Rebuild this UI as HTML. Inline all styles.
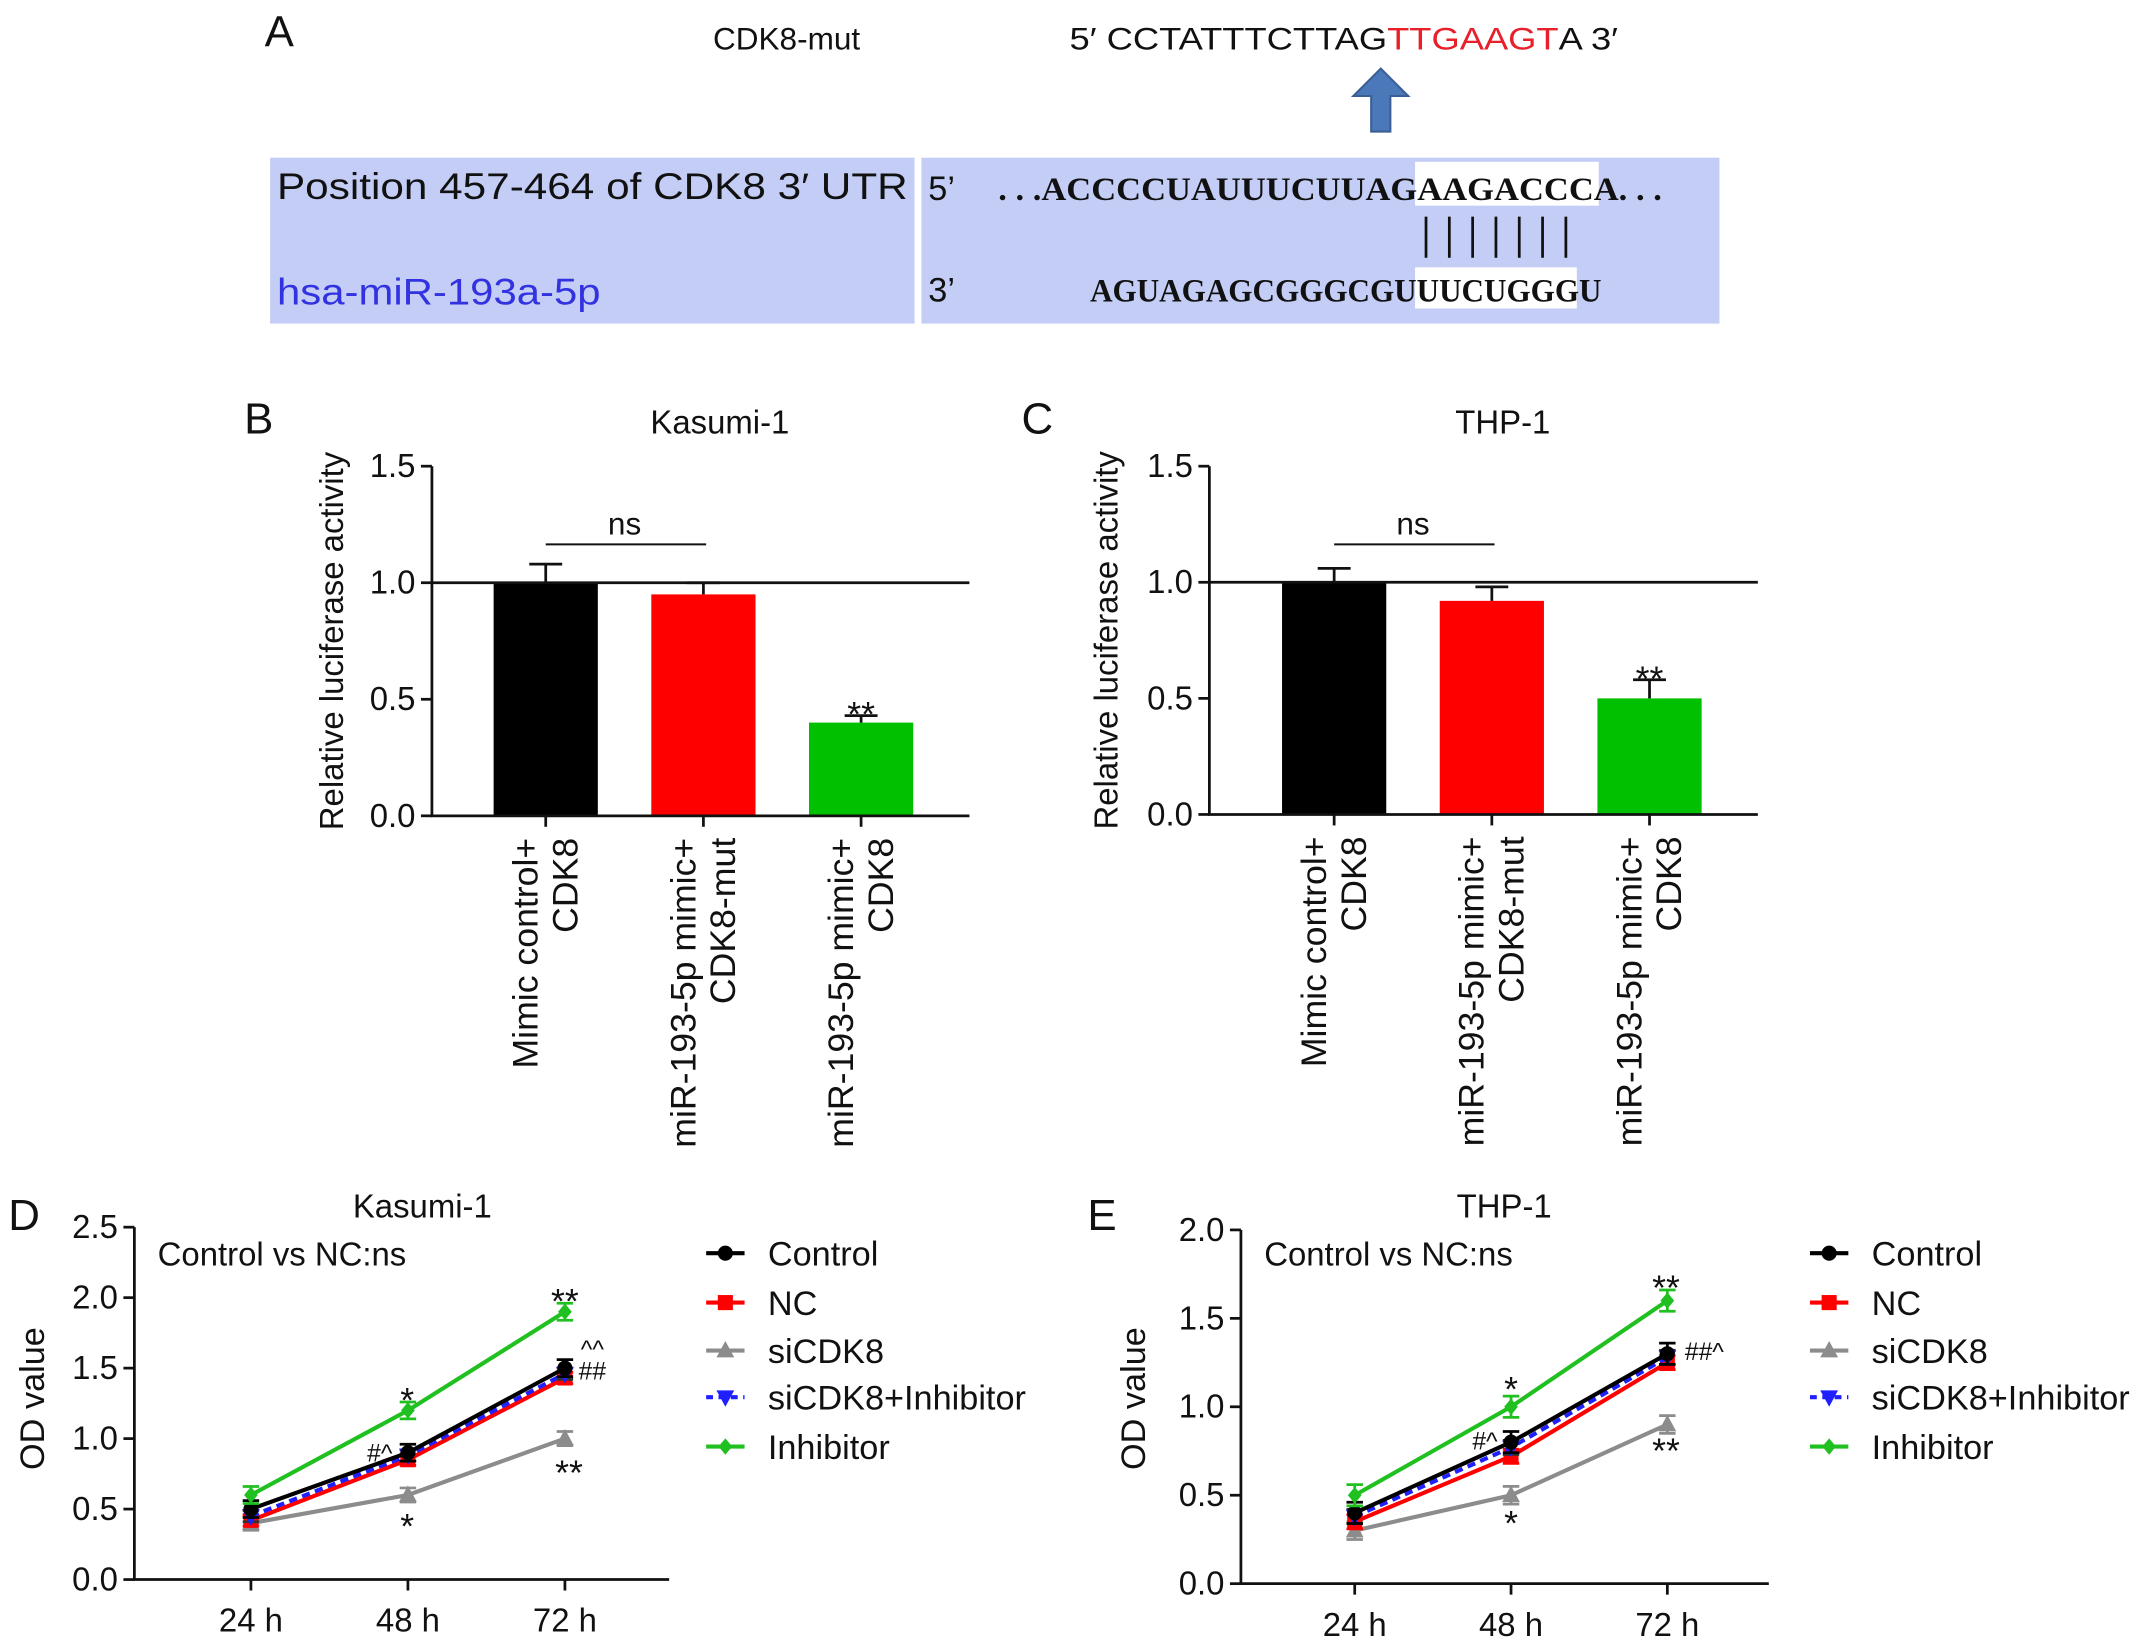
<!DOCTYPE html>
<html><head><meta charset="utf-8">
<style>
html,body{margin:0;padding:0;background:#fff;}
svg{display:block;}
text{font-family:"Liberation Sans",Arial,sans-serif;fill:#111;}
.ser{font-family:"Liberation Serif",serif;font-weight:bold;}
</style></head>
<body>
<svg id="fig" width="2150" height="1644" viewBox="0 0 1568 1199" preserveAspectRatio="none" xmlns="http://www.w3.org/2000/svg">
<g>
  <text x="193" y="34" font-size="32">A</text>
  <text x="520" y="36" font-size="23">CDK8-mut</text>
  <text x="780" y="36" font-size="23" textLength="400" lengthAdjust="spacingAndGlyphs">5′ CCTATTTCTTAG<tspan fill="#e8202a" style="fill:#e8202a">TTGAAGT</tspan>A 3′</text>
  <path d="M1000,96 L1000,70 L987,70 L1007,50 L1027,70 L1014,70 L1014,96 Z" fill="#4a78b8" stroke="#3a5f95" stroke-width="1.5"/>
  <rect x="197" y="115" width="470" height="121" fill="#c3cdf6"/>
  <rect x="672" y="115" width="582" height="121" fill="#c3cdf6"/>
  <rect x="1032" y="118" width="134" height="32" fill="#fff"/>
  <rect x="1032" y="195" width="118" height="30" fill="#fff"/>
  <text x="202" y="145" font-size="27" textLength="460" lengthAdjust="spacingAndGlyphs">Position 457-464 of CDK8 3′ UTR</text>
  <text x="202" y="222" font-size="27" style="fill:#3232e0" textLength="236" lengthAdjust="spacingAndGlyphs">hsa-miR-193a-5p</text>
  <text x="677" y="146" font-size="25">5’</text>
  <text class="ser" x="728" y="146" font-size="24" textLength="484" lengthAdjust="spacingAndGlyphs">. . .ACCCCUAUUUCUUAGAAGACCCA. . .</text>
  <g stroke="#111" stroke-width="2" id="pairs"></g>
  <text x="677" y="220" font-size="25">3’</text>
  <text class="ser" x="795" y="220" font-size="24" textLength="373" lengthAdjust="spacingAndGlyphs">AGUAGAGCGGGCGUUUCUGGGU</text>
</g>
<g id="charts"></g>
</svg>
<script>
// ---- Panel B/C data ----
const barCategories = [["Mimic control+","CDK8"],["miR-193-5p mimic+","CDK8-mut"],["miR-193-5p mimic+","CDK8"]];
const kasumiBarValues = [1.0, 0.95, 0.40];
const kasumiBarErrors = [0.08, 0.05, 0.03];
const thpBarValues = [1.0, 0.92, 0.50];
const thpBarErrors = [0.06, 0.06, 0.08];
const barTicks = [0.0, 0.5, 1.0, 1.5];
// ---- Panel D/E data ----
const timeLabels = ["24 h","48 h","72 h"];
const seriesNames = ["Control","NC","siCDK8","siCDK8+Inhibitor","Inhibitor"];
const kasumiControl = [0.50, 0.90, 1.50];
const kasumiNC = [0.42, 0.85, 1.43];
const kasumiSi = [0.40, 0.60, 1.00];
const kasumiSiInh = [0.45, 0.88, 1.46];
const kasumiInh = [0.60, 1.20, 1.90];
const thpControl = [0.40, 0.80, 1.30];
const thpNC = [0.35, 0.72, 1.25];
const thpSi = [0.30, 0.50, 0.90];
const thpSiInh = [0.38, 0.77, 1.28];
const thpInh = [0.50, 1.00, 1.60];
const kasumiTicks = [0.0, 0.5, 1.0, 1.5, 2.0, 2.5];
const thpTicks = [0.0, 0.5, 1.0, 1.5, 2.0];

const NS = "http://www.w3.org/2000/svg";
const root = document.getElementById('charts');
function mk(tag, attrs, parent, txt){
  const e = document.createElementNS(NS, tag);
  for (const k in attrs) e.setAttribute(k, attrs[k]);
  if (txt !== undefined) e.textContent = txt;
  (parent||root).appendChild(e); return e;
}
const pairs = document.getElementById('pairs');
for (let i=0;i<7;i++){ const l=mk('line',{x1:1040+i*17,x2:1040+i*17,y1:158,y2:188},pairs);

 }

function barPanel(o){
  const g = mk('g',{});
  
  
  const y = v => o.y0 - (v - 0) / 1.5 * (o.y0 - o.y1);
  const x = i => o.x0 + o.first + i*o.step;
  const t = mk('text',{x:o.lx,y:o.y1-24,'font-size':32},g,o.letter);
  
  
  const ti = mk('text',{x:(o.x0+o.x1)/2+14,y:316,'font-size':24,'text-anchor':'middle'},g,o.title);
  
  
  const colors=['#000','#ff0000','#00c000'];
  o.vals.forEach((v,i)=>{
    const cx=x(i), w=76;
    const r = mk('rect',{x:cx-w/2,y:y(v),width:w,height:y(0)-y(v),fill:colors[i]},g);
    
    
    const e = mk('path',{d:`M${cx},${y(v)} V${y(v+o.errs[i])} M${cx-12},${y(v+o.errs[i])} H${cx+12}`,stroke:'#111','stroke-width':2,fill:'none'},g);
    
    
    barCategories[i].forEach((s,j)=>{
      const tx = cx-15+j*29;
      const lb = mk('text',{x:tx,y:y(0)+16,'font-size':26,'text-anchor':'end',transform:`rotate(-90 ${tx} ${y(0)+16})`,dy:'0.35em'},g,s);
      
      
    });
  });
  const ax = mk('path',{d:`M${o.x0},${o.y1} V${y(0)} H${o.x1}`,stroke:'#111','stroke-width':2,fill:'none'},g);
  
  
  const ref = mk('line',{x1:o.x0,x2:o.x1,y1:y(1),y2:y(1),stroke:'#111','stroke-width':2},g);
  
  
  barTicks.forEach(v=>{
    const tk=mk('line',{x1:o.x0-8,x2:o.x0,y1:y(v),y2:y(v),stroke:'#111','stroke-width':2},g);
    
    
    const tl=mk('text',{x:o.x0-12,y:y(v)+8,'font-size':24,'text-anchor':'end'},g,v.toFixed(1));
    
    
  });
  for(let i=0;i<3;i++){ const tk=mk('line',{x1:x(i),x2:x(i),y1:y(0),y2:y(0)+8,stroke:'#111','stroke-width':2},g);
    
     }
  const yl = mk('text',{x:o.ylx,y:(o.y0+o.y1)/2,'font-size':24,'text-anchor':'middle',transform:`rotate(-90 ${o.ylx} ${(o.y0+o.y1)/2})`},g,'Relative luciferase activity');
  
  
  const ns = mk('line',{x1:x(0),x2:x(1)+2,y1:397,y2:397,stroke:'#111','stroke-width':1.5},g);
  
  
  const nst = mk('text',{x:(x(0)+x(1))/2,y:390,'font-size':23,'text-anchor':'middle'},g,'ns');
  
  
  const st = mk('text',{x:x(2),y:y(o.vals[2]+o.errs[2])+8,'font-size':26,'text-anchor':'middle'},g,'**');
  
  
}
barPanel({name:'panel-b-kasumi-bars',letter:'B',lx:178,title:'Kasumi-1',x0:315,x1:707,y0:595,y1:340,first:83,step:115,ylx:250,vals:kasumiBarValues,errs:kasumiBarErrors});
barPanel({name:'panel-c-thp-bars',letter:'C',lx:745,title:'THP-1',x0:882,x1:1282,y0:594,y1:340,first:91,step:115,ylx:815,vals:thpBarValues,errs:thpBarErrors});

function marker(g,type,cx,cy,color){
  let el;
  if(type==='circle') el=mk('circle',{cx,cy,r:5.5,fill:color},g);
  else if(type==='square') el=mk('rect',{x:cx-5.5,y:cy-5.5,width:11,height:11,fill:color},g);
  else if(type==='tri') el=mk('path',{d:`M${cx},${cy-7} L${cx+6.5},${cy+5} L${cx-6.5},${cy+5}Z`,fill:color},g);
  else if(type==='vtri') el=mk('path',{d:`M${cx},${cy+7} L${cx+6.5},${cy-5} L${cx-6.5},${cy-5}Z`,fill:color},g);
  else el=mk('path',{d:`M${cx},${cy-6} L${cx+5},${cy} L${cx},${cy+6} L${cx-5},${cy}Z`,fill:color},g);
  
  
}
function linePanel(o){
  const g = mk('g',{});
  
  
  const top = o.ticks[o.ticks.length-1];
  const y = v => o.y0 - v/top*(o.y0-o.y1);
  const x = i => o.xs0 + i*o.xstep;
  const L = mk('text',{x:o.lx,y:897,'font-size':32},g,o.letter);
  
  
  const ti = mk('text',{x:o.tx,y:888,'font-size':24,'text-anchor':'middle'},g,o.title);
  
  
  const note = mk('text',{x:o.x0+17,y:923,'font-size':24},g,'Control vs NC:ns');
  
  
  const styles=[{c:'#000',m:'circle'},{c:'#ff0000',m:'square'},{c:'#8c8c8c',m:'tri'},{c:'#2020ff',m:'vtri',dash:'6,4'},{c:'#20c020',m:'diamond'}];
  const errs=[0.06,0.04,0.05,0.04,0.06];
  [2,1,3,0,4].forEach(si=>{
    const d=o.series[si], s=styles[si];
    const p = mk('polyline',{points:d.map((v,i)=>`${x(i)},${y(v)}`).join(' '),fill:'none',stroke:s.c,'stroke-width':3,'stroke-dasharray':s.dash||'none'},g);
    
    
    d.forEach((v,i)=>{
      const e=mk('path',{d:`M${x(i)},${y(v-errs[si])} V${y(v+errs[si])} M${x(i)-6},${y(v+errs[si])} H${x(i)+6} M${x(i)-6},${y(v-errs[si])} H${x(i)+6}`,stroke:s.c==='#2020ff'?'#333':s.c,'stroke-width':2,fill:'none'},g);
      
      
      marker(g,s.m,x(i),y(v),s.c);
    });
  });
  const ax = mk('path',{d:`M${o.x0},${o.y1} V${o.y0} H${o.x1}`,stroke:'#111','stroke-width':2,fill:'none'},g);
  
  
  o.ticks.forEach(v=>{
    const tk=mk('line',{x1:o.x0-8,x2:o.x0,y1:y(v),y2:y(v),stroke:'#111','stroke-width':2},g);
    
    
    const tl=mk('text',{x:o.x0-12,y:y(v)+8,'font-size':24,'text-anchor':'end'},g,v.toFixed(1));
    
    
  });
  timeLabels.forEach((t,i)=>{
    const tk=mk('line',{x1:x(i),x2:x(i),y1:o.y0,y2:o.y0+8,stroke:'#111','stroke-width':2},g);
    
    
    const tl=mk('text',{x:x(i),y:o.y0+38,'font-size':24,'text-anchor':'middle'},g,t);
    
    
  });
  const yl=mk('text',{x:o.ylx,y:1020,'font-size':25,'text-anchor':'middle',transform:`rotate(-90 ${o.ylx} 1020)`},g,'OD value');
  
  
  const rows=[914,950,985,1019,1055];
  seriesNames.forEach((n,i)=>{
    const s=styles[i];
    const lg=mk('g',{},g);
    
    
    mk('line',{x1:o.legx,x2:o.legx+28,y1:rows[i],y2:rows[i],stroke:s.c,'stroke-width':3,'stroke-dasharray':s.dash?'5,4':'none'},lg);
    marker(lg,s.m,o.legx+14,rows[i],s.c);
    mk('text',{x:o.legx+45,y:rows[i]+9,'font-size':25},lg,n);
  });
  o.ann.forEach(a=>{
    const t=mk('text',{x:a[0],y:a[1],'font-size':a[3]||22,'text-anchor':'middle'},g,a[2]);
    
    
  });
}
linePanel({name:'panel-d-kasumi-lines',letter:'D',lx:6,title:'Kasumi-1',tx:308,x0:98,x1:488,y0:1152,y1:895,xs0:183,xstep:114.5,ylx:32,legx:515,ticks:kasumiTicks,
  series:[kasumiControl,kasumiNC,kasumiSi,kasumiSiInh,kasumiInh],
  ann:[[412,958,'**',26],[297,1030,'*',26],[277,1066,'#^',18],[432,990,'^^',18],[432,1006,'##',18],[297,1122,'*',26],[415,1083,'**',26]]});
linePanel({name:'panel-e-thp-lines',letter:'E',lx:793,title:'THP-1',tx:1097,x0:905,x1:1290,y0:1155,y1:897,xs0:988,xstep:114,ylx:835,legx:1320,ticks:thpTicks,
  series:[thpControl,thpNC,thpSi,thpSiInh,thpInh],
  ann:[[1215,948,'**',26],[1102,1022,'*',26],[1083,1057,'#^',18],[1243,992,'##^',18],[1215,1067,'**',26],[1102,1120,'*',26]]});
</script>
</body></html>
